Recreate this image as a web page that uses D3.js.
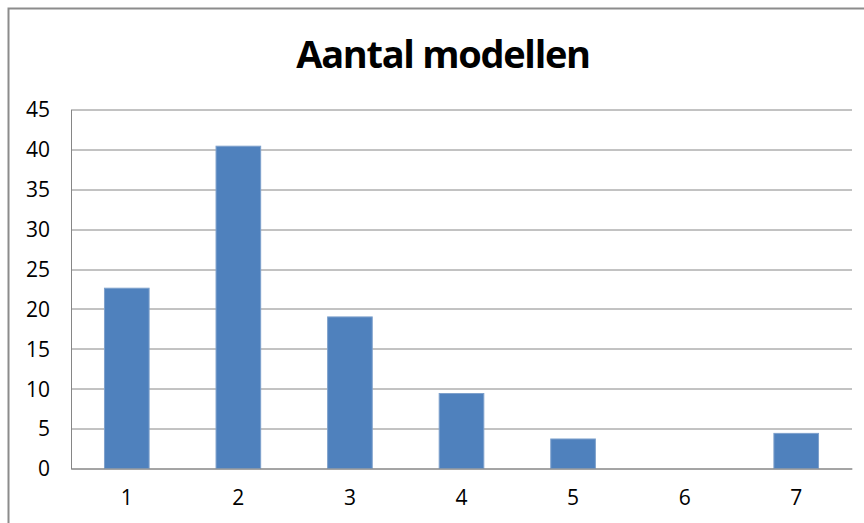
<!DOCTYPE html>
<html>
<head>
<meta charset="utf-8">
<script src="https://cdn.jsdelivr.net/npm/d3@7"></script>
<style>
  body { margin: 0; background: #fff; }
  text { font-family: "Open Sans", "Noto Sans", sans-serif; fill: #000; }
</style>
</head>
<body>
<div id="chart"></div>
<script>
// Chart data
var categories = ["1", "2", "3", "4", "5", "6", "7"];
var counts = [22.6, 40.4, 19.0, 9.4, 3.7, 0, 4.4];
var yTicks = [0, 5, 10, 15, 20, 25, 30, 35, 40, 45];
var title = "Aantal modellen";

var svgWidth = 864;
var svgHeight = 523;

var margin = { top: 109.5, right: 12, bottom: 54.5, left: 71 };
var width = svgWidth - margin.left - margin.right;
var height = svgHeight - margin.top - margin.bottom;

var svg = d3.select("#chart")
  .append("svg")
  .attr("width", svgWidth)
  .attr("height", svgHeight);

// outer chart border (cropped at right/bottom)
svg.append("path")
  .attr("d", "M8.5,523 V8.5 H864")
  .attr("fill", "none")
  .attr("stroke", "#8c8c8c")
  .attr("stroke-width", 2);

svg.append("text")
  .attr("x", 443)
  .attr("y", 68)
  .attr("text-anchor", "middle")
  .attr("font-size", "38px")
  .attr("font-weight", "bold")
  .attr("letter-spacing", "-1.3px")
  .text(title);

var chartGroup = svg.append("g")
  .attr("transform", `translate(${margin.left}, ${margin.top})`);

var xScale = d3.scaleBand()
  .domain(categories)
  .range([0, width])
  .paddingInner(0.6)
  .paddingOuter(0.3);

var yScale = d3.scaleLinear()
  .domain([0, 45])
  .range([height, 0]);

// gridlines
chartGroup.selectAll(".grid")
  .data(yTicks)
  .enter()
  .append("line")
  .attr("x1", 0)
  .attr("x2", width)
  .attr("y1", d => Math.round(yScale(d)) + 0.5)
  .attr("y2", d => Math.round(yScale(d)) + 0.5)
  .attr("stroke", "#868686")
  .attr("stroke-width", 1);

// y axis
var leftAxis = d3.axisLeft(yScale).tickValues(yTicks).tickSize(0).tickPadding(21);
var yAxisG = chartGroup.append("g").call(leftAxis);
yAxisG.select(".domain").attr("stroke", "#868686");
yAxisG.selectAll("text").attr("font-size", "21px").attr("dy", "0.35em");

// bars
chartGroup.selectAll("rect")
  .data(counts)
  .enter()
  .append("rect")
  .attr("x", (d, i) => xScale(categories[i]))
  .attr("y", d => yScale(d))
  .attr("width", xScale.bandwidth())
  .attr("height", d => height - yScale(d))
  .attr("fill", "#4f81bd")
  .attr("stroke", "#7ea1cc")
  .attr("stroke-width", 1);

// x axis
var bottomAxis = d3.axisBottom(xScale).tickSize(0).tickPadding(22);
var xAxisG = chartGroup.append("g")
  .attr("transform", `translate(0, ${height})`)
  .call(bottomAxis);
xAxisG.select(".domain").attr("stroke", "#868686");
xAxisG.selectAll("text").attr("font-size", "21px");
</script>
</body>
</html>
